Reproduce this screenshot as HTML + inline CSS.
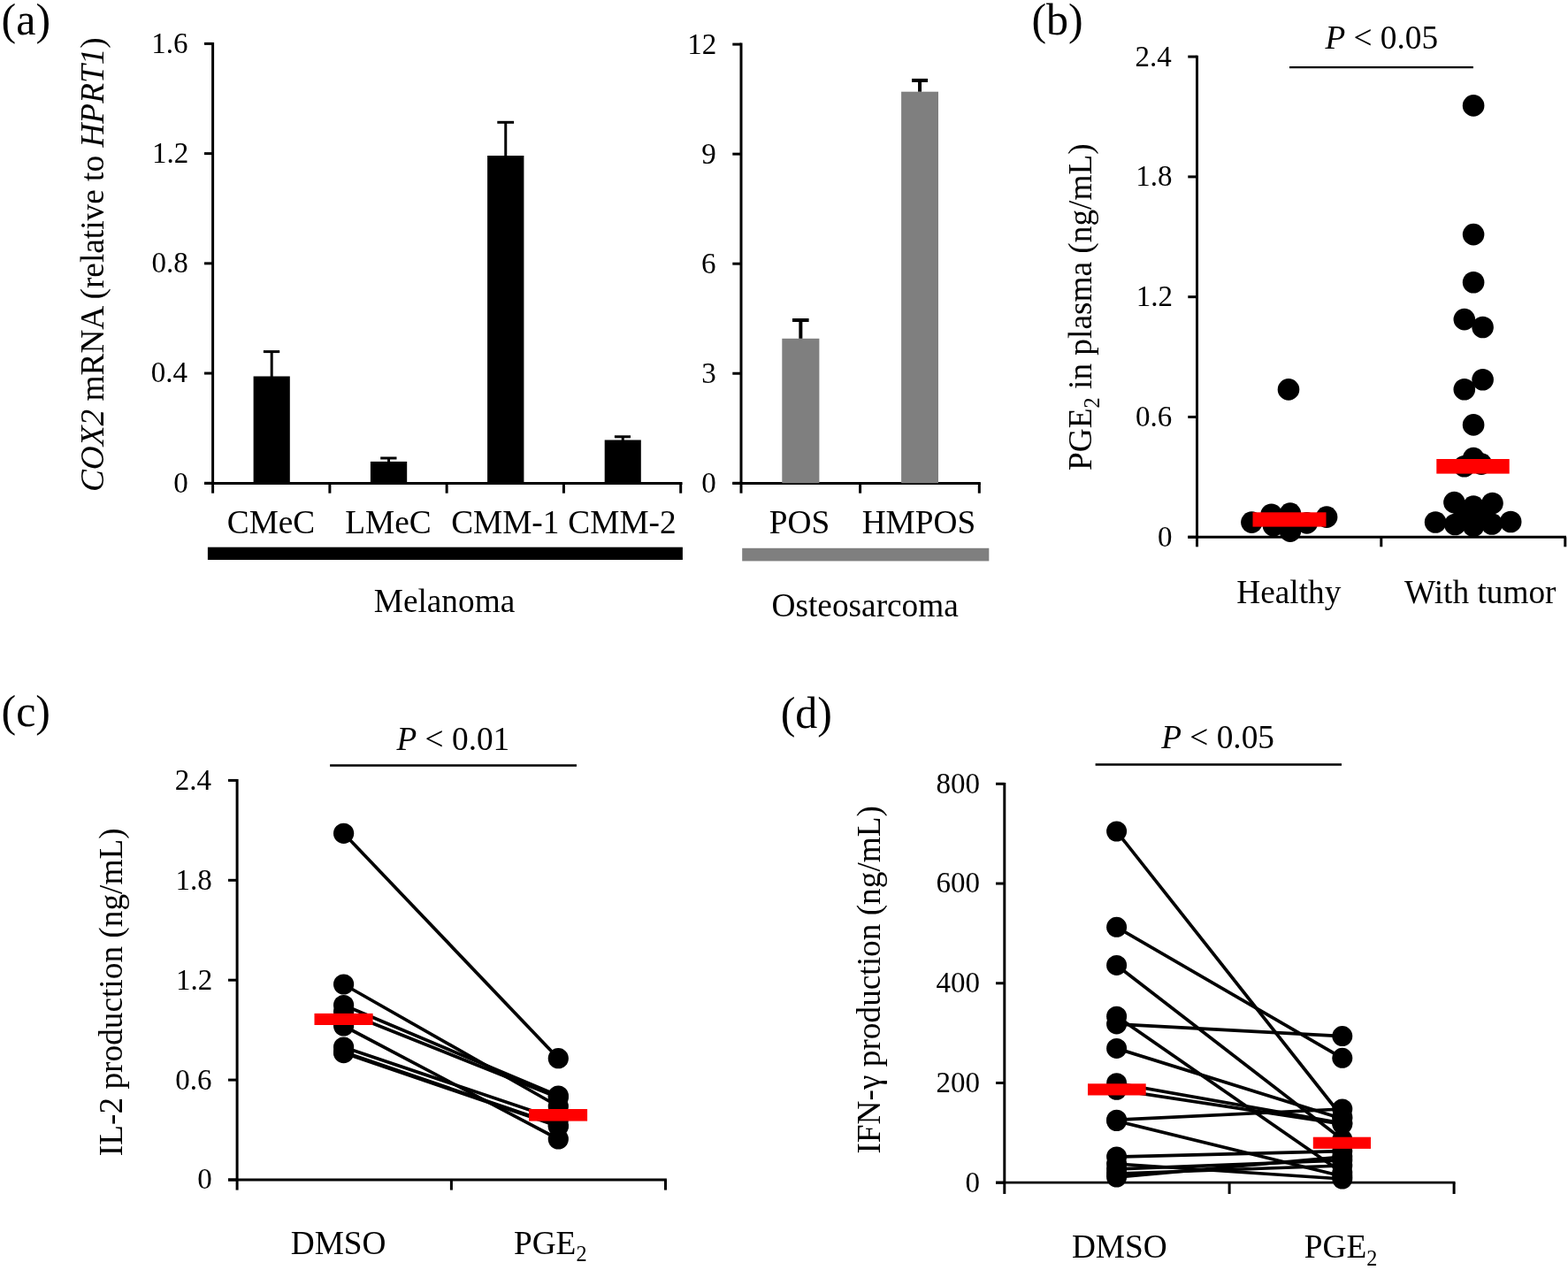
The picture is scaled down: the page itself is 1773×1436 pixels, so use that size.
<!DOCTYPE html>
<html><head><meta charset="utf-8"><title>Figure</title>
<style>
html,body{margin:0;padding:0;background:#fff;}
svg{display:block;}
text{font-family:"Liberation Serif","Times New Roman",serif;fill:#000;}
</style></head>
<body>
<svg width="1773" height="1436" viewBox="0 0 1773 1436">
<rect width="1773" height="1436" fill="#fff"/>
<text x="1.60" y="39.30" font-size="50">(a)</text>
<line x1="240.60" y1="48.00" x2="240.60" y2="546.30" stroke="#000" stroke-width="3" stroke-linecap="butt"/>
<line x1="231.00" y1="546.30" x2="240.60" y2="546.30" stroke="#000" stroke-width="3" stroke-linecap="butt"/>
<text x="196.26" y="556.70" font-size="33">0</text>
<line x1="231.00" y1="422.07" x2="240.60" y2="422.07" stroke="#000" stroke-width="3" stroke-linecap="butt"/>
<text x="170.77" y="432.47" font-size="33">0.4</text>
<line x1="231.00" y1="297.85" x2="240.60" y2="297.85" stroke="#000" stroke-width="3" stroke-linecap="butt"/>
<text x="171.51" y="308.25" font-size="33">0.8</text>
<line x1="231.00" y1="173.62" x2="240.60" y2="173.62" stroke="#000" stroke-width="3" stroke-linecap="butt"/>
<text x="172.07" y="184.03" font-size="33">1.2</text>
<line x1="231.00" y1="49.40" x2="240.60" y2="49.40" stroke="#000" stroke-width="3" stroke-linecap="butt"/>
<text x="171.23" y="59.80" font-size="33">1.6</text>
<line x1="231.00" y1="546.50" x2="771.50" y2="546.50" stroke="#000" stroke-width="3.1" stroke-linecap="butt"/>
<line x1="240.60" y1="546.30" x2="240.60" y2="557.70" stroke="#000" stroke-width="3" stroke-linecap="butt"/>
<line x1="372.88" y1="546.30" x2="372.88" y2="557.70" stroke="#000" stroke-width="3" stroke-linecap="butt"/>
<line x1="505.15" y1="546.30" x2="505.15" y2="557.70" stroke="#000" stroke-width="3" stroke-linecap="butt"/>
<line x1="637.43" y1="546.30" x2="637.43" y2="557.70" stroke="#000" stroke-width="3" stroke-linecap="butt"/>
<line x1="769.70" y1="546.30" x2="769.70" y2="557.70" stroke="#000" stroke-width="3" stroke-linecap="butt"/>
<rect x="286.60" y="425.50" width="41.20" height="120.80" fill="#000"/>
<line x1="307.20" y1="426.50" x2="307.20" y2="397.60" stroke="#000" stroke-width="3" stroke-linecap="butt"/>
<line x1="297.90" y1="397.60" x2="316.20" y2="397.60" stroke="#000" stroke-width="3" stroke-linecap="butt"/>
<rect x="418.90" y="521.90" width="41.30" height="24.40" fill="#000"/>
<line x1="439.55" y1="522.90" x2="439.55" y2="518.00" stroke="#000" stroke-width="3" stroke-linecap="butt"/>
<line x1="430.20" y1="518.00" x2="448.50" y2="518.00" stroke="#000" stroke-width="3" stroke-linecap="butt"/>
<rect x="551.10" y="176.00" width="41.30" height="370.30" fill="#000"/>
<line x1="571.75" y1="177.00" x2="571.75" y2="138.30" stroke="#000" stroke-width="3" stroke-linecap="butt"/>
<line x1="562.30" y1="138.30" x2="581.10" y2="138.30" stroke="#000" stroke-width="3" stroke-linecap="butt"/>
<rect x="683.70" y="497.50" width="41.10" height="48.80" fill="#000"/>
<line x1="704.25" y1="498.50" x2="704.25" y2="493.80" stroke="#000" stroke-width="3" stroke-linecap="butt"/>
<line x1="694.90" y1="493.80" x2="713.00" y2="493.80" stroke="#000" stroke-width="3" stroke-linecap="butt"/>
<text x="256.77" y="602.60" font-size="37.3">CMeC</text>
<text x="390.23" y="602.60" font-size="37.3">LMeC</text>
<text x="510.17" y="602.60" font-size="37.3">CMM-1</text>
<text x="642.37" y="602.60" font-size="37.3">CMM-2</text>
<rect x="234.90" y="618.70" width="537.00" height="14.30" fill="#000"/>
<text x="422.73" y="692.00" font-size="37.3">Melanoma</text>
<text x="116.80" y="556.08" font-size="37.3" transform="rotate(-90 116.80 556.08)"><tspan font-style="italic">COX2</tspan><tspan> mRNA (relative to </tspan><tspan font-style="italic">HPRT1</tspan><tspan>)</tspan></text>
<line x1="838.00" y1="48.60" x2="838.00" y2="546.30" stroke="#000" stroke-width="3" stroke-linecap="butt"/>
<line x1="828.30" y1="546.30" x2="838.00" y2="546.30" stroke="#000" stroke-width="3" stroke-linecap="butt"/>
<text x="793.16" y="556.70" font-size="33">0</text>
<line x1="828.30" y1="422.25" x2="838.00" y2="422.25" stroke="#000" stroke-width="3" stroke-linecap="butt"/>
<text x="793.19" y="432.65" font-size="33">3</text>
<line x1="828.30" y1="298.20" x2="838.00" y2="298.20" stroke="#000" stroke-width="3" stroke-linecap="butt"/>
<text x="792.88" y="308.60" font-size="33">6</text>
<line x1="828.30" y1="174.15" x2="838.00" y2="174.15" stroke="#000" stroke-width="3" stroke-linecap="butt"/>
<text x="793.25" y="184.55" font-size="33">9</text>
<line x1="828.30" y1="50.10" x2="838.00" y2="50.10" stroke="#000" stroke-width="3" stroke-linecap="butt"/>
<text x="777.22" y="60.50" font-size="33">12</text>
<line x1="828.30" y1="546.50" x2="1108.80" y2="546.50" stroke="#000" stroke-width="3.1" stroke-linecap="butt"/>
<line x1="838.00" y1="546.30" x2="838.00" y2="557.70" stroke="#000" stroke-width="3" stroke-linecap="butt"/>
<line x1="972.60" y1="546.30" x2="972.60" y2="557.70" stroke="#000" stroke-width="3" stroke-linecap="butt"/>
<line x1="1107.30" y1="546.30" x2="1107.30" y2="557.70" stroke="#000" stroke-width="3" stroke-linecap="butt"/>
<rect x="884.30" y="382.80" width="42.10" height="163.50" fill="#7f7f7f"/>
<line x1="905.35" y1="382.80" x2="905.35" y2="362.00" stroke="#000" stroke-width="4" stroke-linecap="butt"/>
<line x1="896.00" y1="362.00" x2="914.60" y2="362.00" stroke="#000" stroke-width="4" stroke-linecap="butt"/>
<rect x="1019.10" y="103.70" width="41.90" height="442.60" fill="#7f7f7f"/>
<line x1="1040.05" y1="103.70" x2="1040.05" y2="90.90" stroke="#000" stroke-width="4" stroke-linecap="butt"/>
<line x1="1031.00" y1="90.90" x2="1049.10" y2="90.90" stroke="#000" stroke-width="4" stroke-linecap="butt"/>
<text x="869.83" y="602.80" font-size="37.3">POS</text>
<text x="974.63" y="602.80" font-size="37.3">HMPOS</text>
<rect x="839.20" y="619.80" width="279.10" height="14.60" fill="#7f7f7f"/>
<text x="872.57" y="696.60" font-size="37.3">Osteosarcoma</text>
<text x="1166.40" y="39.30" font-size="50">(b)</text>
<line x1="1353.50" y1="62.80" x2="1353.50" y2="607.30" stroke="#000" stroke-width="3" stroke-linecap="butt"/>
<line x1="1343.30" y1="607.30" x2="1353.50" y2="607.30" stroke="#000" stroke-width="3" stroke-linecap="butt"/>
<text x="1308.96" y="617.70" font-size="33">0</text>
<line x1="1343.30" y1="471.50" x2="1353.50" y2="471.50" stroke="#000" stroke-width="3" stroke-linecap="butt"/>
<text x="1283.93" y="481.90" font-size="33">0.6</text>
<line x1="1343.30" y1="335.70" x2="1353.50" y2="335.70" stroke="#000" stroke-width="3" stroke-linecap="butt"/>
<text x="1284.77" y="346.10" font-size="33">1.2</text>
<line x1="1343.30" y1="199.90" x2="1353.50" y2="199.90" stroke="#000" stroke-width="3" stroke-linecap="butt"/>
<text x="1284.21" y="210.30" font-size="33">1.8</text>
<line x1="1343.30" y1="64.10" x2="1353.50" y2="64.10" stroke="#000" stroke-width="3" stroke-linecap="butt"/>
<text x="1283.47" y="74.50" font-size="33">2.4</text>
<line x1="1343.30" y1="607.30" x2="1771.00" y2="607.30" stroke="#000" stroke-width="3" stroke-linecap="butt"/>
<line x1="1353.50" y1="607.30" x2="1353.50" y2="618.30" stroke="#000" stroke-width="3" stroke-linecap="butt"/>
<line x1="1561.80" y1="607.30" x2="1561.80" y2="618.30" stroke="#000" stroke-width="3" stroke-linecap="butt"/>
<line x1="1769.80" y1="607.30" x2="1769.80" y2="618.30" stroke="#000" stroke-width="3" stroke-linecap="butt"/>
<circle cx="1457.00" cy="440.40" r="12.30" fill="#000"/>
<circle cx="1415.40" cy="590.60" r="12.30" fill="#000"/>
<circle cx="1437.60" cy="581.70" r="12.30" fill="#000"/>
<circle cx="1458.90" cy="580.60" r="12.30" fill="#000"/>
<circle cx="1500.10" cy="584.60" r="12.30" fill="#000"/>
<circle cx="1440.00" cy="594.30" r="12.30" fill="#000"/>
<circle cx="1477.70" cy="591.40" r="12.30" fill="#000"/>
<circle cx="1458.90" cy="600.60" r="12.30" fill="#000"/>
<circle cx="1666.10" cy="119.40" r="12.30" fill="#000"/>
<circle cx="1666.10" cy="265.10" r="12.30" fill="#000"/>
<circle cx="1666.10" cy="319.30" r="12.30" fill="#000"/>
<circle cx="1655.80" cy="361.10" r="12.30" fill="#000"/>
<circle cx="1676.60" cy="370.00" r="12.30" fill="#000"/>
<circle cx="1676.60" cy="429.30" r="12.30" fill="#000"/>
<circle cx="1655.80" cy="440.20" r="12.30" fill="#000"/>
<circle cx="1666.10" cy="480.40" r="12.30" fill="#000"/>
<circle cx="1666.10" cy="518.10" r="12.30" fill="#000"/>
<circle cx="1675.00" cy="524.60" r="12.30" fill="#000"/>
<circle cx="1655.70" cy="527.30" r="12.30" fill="#000"/>
<circle cx="1623.10" cy="590.50" r="12.30" fill="#000"/>
<circle cx="1708.20" cy="590.00" r="12.30" fill="#000"/>
<circle cx="1644.40" cy="568.10" r="12.30" fill="#000"/>
<circle cx="1687.50" cy="569.00" r="12.30" fill="#000"/>
<circle cx="1666.10" cy="572.60" r="12.30" fill="#000"/>
<circle cx="1645.30" cy="593.00" r="12.30" fill="#000"/>
<circle cx="1686.90" cy="592.50" r="12.30" fill="#000"/>
<circle cx="1666.10" cy="594.80" r="12.30" fill="#000"/>
<circle cx="1655.50" cy="582.00" r="12.30" fill="#000"/>
<circle cx="1676.50" cy="582.00" r="12.30" fill="#000"/>
<circle cx="1666.00" cy="583.00" r="12.30" fill="#000"/>
<rect x="1416.50" y="579.30" width="83.00" height="16.30" fill="#ff0000"/>
<rect x="1624.30" y="519.00" width="82.40" height="16.60" fill="#ff0000"/>
<line x1="1458.00" y1="76.10" x2="1665.90" y2="76.10" stroke="#000" stroke-width="2.4" stroke-linecap="butt"/>
<text x="1498.40" y="54.60" font-size="37.3"><tspan font-style="italic">P</tspan> &lt; 0.05</text>
<text x="1398.33" y="681.80" font-size="37.3">Healthy</text>
<text x="1588.06" y="681.80" font-size="37.3">With tumor</text>
<text x="1234.20" y="531.87" font-size="37.3" transform="rotate(-90 1234.20 531.87)"><tspan>PGE</tspan><tspan font-size="24.24" dy="9.14">2</tspan><tspan dy="-9.14"> in plasma (ng/mL)</tspan></text>
<text x="1.50" y="821.30" font-size="50">(c)</text>
<line x1="268.10" y1="881.10" x2="268.10" y2="1334.00" stroke="#000" stroke-width="3" stroke-linecap="butt"/>
<line x1="258.00" y1="1334.00" x2="268.10" y2="1334.00" stroke="#000" stroke-width="3" stroke-linecap="butt"/>
<text x="223.16" y="1344.40" font-size="33">0</text>
<line x1="258.00" y1="1221.10" x2="268.10" y2="1221.10" stroke="#000" stroke-width="3" stroke-linecap="butt"/>
<text x="198.13" y="1231.50" font-size="33">0.6</text>
<line x1="258.00" y1="1108.20" x2="268.10" y2="1108.20" stroke="#000" stroke-width="3" stroke-linecap="butt"/>
<text x="198.97" y="1118.60" font-size="33">1.2</text>
<line x1="258.00" y1="995.30" x2="268.10" y2="995.30" stroke="#000" stroke-width="3" stroke-linecap="butt"/>
<text x="198.41" y="1005.70" font-size="33">1.8</text>
<line x1="258.00" y1="882.40" x2="268.10" y2="882.40" stroke="#000" stroke-width="3" stroke-linecap="butt"/>
<text x="197.67" y="892.80" font-size="33">2.4</text>
<line x1="258.00" y1="1334.00" x2="753.90" y2="1334.00" stroke="#000" stroke-width="2.8" stroke-linecap="butt"/>
<line x1="268.10" y1="1334.00" x2="268.10" y2="1345.60" stroke="#000" stroke-width="3" stroke-linecap="butt"/>
<line x1="510.40" y1="1334.00" x2="510.40" y2="1345.60" stroke="#000" stroke-width="3" stroke-linecap="butt"/>
<line x1="752.50" y1="1334.00" x2="752.50" y2="1345.60" stroke="#000" stroke-width="3" stroke-linecap="butt"/>
<line x1="388.60" y1="942.30" x2="631.30" y2="1196.70" stroke="#000" stroke-width="3.7" stroke-linecap="butt"/>
<line x1="388.60" y1="1113.00" x2="631.30" y2="1251.00" stroke="#000" stroke-width="3.7" stroke-linecap="butt"/>
<line x1="388.60" y1="1136.50" x2="631.30" y2="1239.00" stroke="#000" stroke-width="3.7" stroke-linecap="butt"/>
<line x1="388.60" y1="1144.00" x2="631.30" y2="1241.00" stroke="#000" stroke-width="3.7" stroke-linecap="butt"/>
<line x1="388.60" y1="1160.00" x2="631.30" y2="1288.00" stroke="#000" stroke-width="3.7" stroke-linecap="butt"/>
<line x1="388.60" y1="1184.00" x2="631.30" y2="1266.00" stroke="#000" stroke-width="3.7" stroke-linecap="butt"/>
<line x1="388.60" y1="1189.50" x2="631.30" y2="1272.50" stroke="#000" stroke-width="3.7" stroke-linecap="butt"/>
<line x1="388.60" y1="1190.60" x2="631.30" y2="1273.50" stroke="#000" stroke-width="3.7" stroke-linecap="butt"/>
<circle cx="388.60" cy="942.30" r="11.60" fill="#000"/>
<circle cx="631.30" cy="1196.70" r="11.60" fill="#000"/>
<circle cx="388.60" cy="1113.00" r="11.60" fill="#000"/>
<circle cx="631.30" cy="1251.00" r="11.60" fill="#000"/>
<circle cx="388.60" cy="1136.50" r="11.60" fill="#000"/>
<circle cx="631.30" cy="1239.00" r="11.60" fill="#000"/>
<circle cx="388.60" cy="1144.00" r="11.60" fill="#000"/>
<circle cx="631.30" cy="1241.00" r="11.60" fill="#000"/>
<circle cx="388.60" cy="1160.00" r="11.60" fill="#000"/>
<circle cx="631.30" cy="1288.00" r="11.60" fill="#000"/>
<circle cx="388.60" cy="1184.00" r="11.60" fill="#000"/>
<circle cx="631.30" cy="1266.00" r="11.60" fill="#000"/>
<circle cx="388.60" cy="1189.50" r="11.60" fill="#000"/>
<circle cx="631.30" cy="1272.50" r="11.60" fill="#000"/>
<circle cx="388.60" cy="1190.60" r="11.60" fill="#000"/>
<circle cx="631.30" cy="1273.50" r="11.60" fill="#000"/>
<rect x="355.50" y="1145.90" width="66.10" height="13.10" fill="#ff0000"/>
<rect x="598.00" y="1254.00" width="66.10" height="13.60" fill="#ff0000"/>
<line x1="373.10" y1="865.60" x2="652.00" y2="865.60" stroke="#000" stroke-width="2.5" stroke-linecap="butt"/>
<text x="448.50" y="847.60" font-size="37.3"><tspan font-style="italic">P</tspan> &lt; 0.01</text>
<text x="328.73" y="1417.80" font-size="37.3">DMSO</text>
<text x="580.93" y="1417.80" font-size="37.3">PGE<tspan font-size="24.24" dy="8.21">2</tspan></text>
<text x="137.80" y="1307.15" font-size="37.3" transform="rotate(-90 137.80 1307.15)"><tspan>IL-2 production (ng/mL)</tspan></text>
<text x="882.70" y="822.50" font-size="50">(d)</text>
<line x1="1135.80" y1="885.00" x2="1135.80" y2="1337.20" stroke="#000" stroke-width="3" stroke-linecap="butt"/>
<line x1="1126.00" y1="1337.20" x2="1135.80" y2="1337.20" stroke="#000" stroke-width="3" stroke-linecap="butt"/>
<text x="1091.56" y="1347.60" font-size="33">0</text>
<line x1="1126.00" y1="1224.47" x2="1135.80" y2="1224.47" stroke="#000" stroke-width="3" stroke-linecap="butt"/>
<text x="1058.56" y="1234.88" font-size="33">200</text>
<line x1="1126.00" y1="1111.75" x2="1135.80" y2="1111.75" stroke="#000" stroke-width="3" stroke-linecap="butt"/>
<text x="1058.56" y="1122.15" font-size="33">400</text>
<line x1="1126.00" y1="999.02" x2="1135.80" y2="999.02" stroke="#000" stroke-width="3" stroke-linecap="butt"/>
<text x="1058.56" y="1009.42" font-size="33">600</text>
<line x1="1126.00" y1="886.30" x2="1135.80" y2="886.30" stroke="#000" stroke-width="3" stroke-linecap="butt"/>
<text x="1058.56" y="896.70" font-size="33">800</text>
<line x1="1126.00" y1="1337.20" x2="1645.50" y2="1337.20" stroke="#000" stroke-width="2.8" stroke-linecap="butt"/>
<line x1="1135.80" y1="1337.20" x2="1135.80" y2="1350.00" stroke="#000" stroke-width="3" stroke-linecap="butt"/>
<line x1="1390.10" y1="1337.20" x2="1390.10" y2="1350.00" stroke="#000" stroke-width="3" stroke-linecap="butt"/>
<line x1="1644.10" y1="1337.20" x2="1644.10" y2="1350.00" stroke="#000" stroke-width="3" stroke-linecap="butt"/>
<line x1="1262.60" y1="940.00" x2="1517.80" y2="1263.00" stroke="#000" stroke-width="3.7" stroke-linecap="butt"/>
<line x1="1262.60" y1="1048.30" x2="1517.80" y2="1196.30" stroke="#000" stroke-width="3.7" stroke-linecap="butt"/>
<line x1="1262.60" y1="1091.40" x2="1517.80" y2="1288.40" stroke="#000" stroke-width="3.7" stroke-linecap="butt"/>
<line x1="1262.60" y1="1149.20" x2="1517.80" y2="1326.00" stroke="#000" stroke-width="3.7" stroke-linecap="butt"/>
<line x1="1262.60" y1="1157.90" x2="1517.80" y2="1171.60" stroke="#000" stroke-width="3.7" stroke-linecap="butt"/>
<line x1="1262.60" y1="1185.40" x2="1517.80" y2="1265.00" stroke="#000" stroke-width="3.7" stroke-linecap="butt"/>
<line x1="1262.60" y1="1224.70" x2="1517.80" y2="1270.00" stroke="#000" stroke-width="3.7" stroke-linecap="butt"/>
<line x1="1262.60" y1="1232.30" x2="1517.80" y2="1271.00" stroke="#000" stroke-width="3.7" stroke-linecap="butt"/>
<line x1="1262.60" y1="1266.20" x2="1517.80" y2="1254.00" stroke="#000" stroke-width="3.7" stroke-linecap="butt"/>
<line x1="1262.60" y1="1267.50" x2="1517.80" y2="1330.00" stroke="#000" stroke-width="3.7" stroke-linecap="butt"/>
<line x1="1262.60" y1="1308.00" x2="1517.80" y2="1301.60" stroke="#000" stroke-width="3.7" stroke-linecap="butt"/>
<line x1="1262.60" y1="1316.00" x2="1517.80" y2="1333.00" stroke="#000" stroke-width="3.7" stroke-linecap="butt"/>
<line x1="1262.60" y1="1322.00" x2="1517.80" y2="1312.00" stroke="#000" stroke-width="3.7" stroke-linecap="butt"/>
<line x1="1262.60" y1="1327.00" x2="1517.80" y2="1318.00" stroke="#000" stroke-width="3.7" stroke-linecap="butt"/>
<line x1="1262.60" y1="1331.00" x2="1517.80" y2="1308.00" stroke="#000" stroke-width="3.7" stroke-linecap="butt"/>
<circle cx="1262.60" cy="940.00" r="11.50" fill="#000"/>
<circle cx="1517.80" cy="1263.00" r="11.50" fill="#000"/>
<circle cx="1262.60" cy="1048.30" r="11.50" fill="#000"/>
<circle cx="1517.80" cy="1196.30" r="11.50" fill="#000"/>
<circle cx="1262.60" cy="1091.40" r="11.50" fill="#000"/>
<circle cx="1517.80" cy="1288.40" r="11.50" fill="#000"/>
<circle cx="1262.60" cy="1149.20" r="11.50" fill="#000"/>
<circle cx="1517.80" cy="1326.00" r="11.50" fill="#000"/>
<circle cx="1262.60" cy="1157.90" r="11.50" fill="#000"/>
<circle cx="1517.80" cy="1171.60" r="11.50" fill="#000"/>
<circle cx="1262.60" cy="1185.40" r="11.50" fill="#000"/>
<circle cx="1517.80" cy="1265.00" r="11.50" fill="#000"/>
<circle cx="1262.60" cy="1224.70" r="11.50" fill="#000"/>
<circle cx="1517.80" cy="1270.00" r="11.50" fill="#000"/>
<circle cx="1262.60" cy="1232.30" r="11.50" fill="#000"/>
<circle cx="1517.80" cy="1271.00" r="11.50" fill="#000"/>
<circle cx="1262.60" cy="1266.20" r="11.50" fill="#000"/>
<circle cx="1517.80" cy="1254.00" r="11.50" fill="#000"/>
<circle cx="1262.60" cy="1267.50" r="11.50" fill="#000"/>
<circle cx="1517.80" cy="1330.00" r="11.50" fill="#000"/>
<circle cx="1262.60" cy="1308.00" r="11.50" fill="#000"/>
<circle cx="1517.80" cy="1301.60" r="11.50" fill="#000"/>
<circle cx="1262.60" cy="1316.00" r="11.50" fill="#000"/>
<circle cx="1517.80" cy="1333.00" r="11.50" fill="#000"/>
<circle cx="1262.60" cy="1322.00" r="11.50" fill="#000"/>
<circle cx="1517.80" cy="1312.00" r="11.50" fill="#000"/>
<circle cx="1262.60" cy="1327.00" r="11.50" fill="#000"/>
<circle cx="1517.80" cy="1318.00" r="11.50" fill="#000"/>
<circle cx="1262.60" cy="1331.00" r="11.50" fill="#000"/>
<circle cx="1517.80" cy="1308.00" r="11.50" fill="#000"/>
<rect x="1230.00" y="1225.30" width="65.70" height="13.20" fill="#ff0000"/>
<rect x="1484.80" y="1285.70" width="65.20" height="13.20" fill="#ff0000"/>
<line x1="1238.60" y1="864.50" x2="1517.00" y2="864.50" stroke="#000" stroke-width="2.5" stroke-linecap="butt"/>
<text x="1313.20" y="846.30" font-size="37.3"><tspan font-style="italic">P</tspan> &lt; 0.05</text>
<text x="1211.93" y="1422.30" font-size="37.3">DMSO</text>
<text x="1474.83" y="1422.30" font-size="37.3">PGE<tspan font-size="24.24" dy="8.21">2</tspan></text>
<text x="994.60" y="1304.55" font-size="37.3" transform="rotate(-90 994.60 1304.55)"><tspan>IFN-γ production (ng/mL)</tspan></text>
</svg>
</body></html>
